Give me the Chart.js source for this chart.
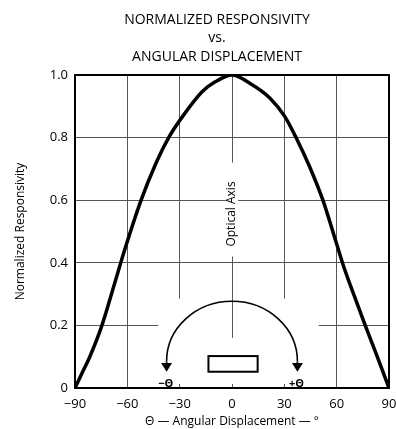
<!DOCTYPE html>
<html><head><meta charset="utf-8">
<script src="https://cdn.jsdelivr.net/npm/chart.js@4/dist/chart.umd.min.js"></script>
<style>html,body{margin:0;padding:0;background:#fff}#wrap{width:396px;height:429px;position:relative}</style>
</head><body><div id="wrap"><canvas id="c"></canvas></div>
<script>
const titleLines = ['NORMALIZED RESPONSIVITY', 'vs.', 'ANGULAR DISPLACEMENT'];
const xAxisTitle = '\u0398 \u2014 Angular Displacement \u2014 \u00B0';
const yAxisTitle = 'Normalized Responsivity';
const xTicks = [-90, -60, -30, 0, 30, 60, 90];
const yTicks = [0, 0.2, 0.4, 0.6, 0.8, 1.0];
const angles = [-90, -85.75, -81.5, -74.8, -67.3, -61.6, -52.1, -43.6, -36, -28.4, -17, -9.4, 0,
                10.4, 21.8, 30.3, 36.9, 44.5, 52.1, 60, 64.5, 70, 76, 83, 90];
const responsivity = [0, 0.05, 0.1, 0.196, 0.334, 0.44, 0.6, 0.718, 0.803, 0.867, 0.947, 0.979, 1.0,
                0.973, 0.926, 0.867, 0.798, 0.707, 0.6, 0.46, 0.38, 0.296, 0.206, 0.104, 0];
const diagramLabels = ['\u2212\u0398', '+\u0398'];
const axisLabel = 'Optical Axis';

const FONT = "'Open Sans', 'DejaVu Sans', sans-serif";
const GRID = '#555';

const overlay = {
  id: 'overlay',
  beforeDatasetsDraw(chart) {
    const {ctx, chartArea: a, scales: {x, y}} = chart;
    const px = v => x.getPixelForValue(v), py = v => y.getPixelForValue(v);
    ctx.save();
    // title
    ctx.fillStyle = '#000';
    ctx.font = '14px ' + FONT;
    ctx.textAlign = 'center'; ctx.textBaseline = 'middle';
    titleLines.forEach((t, i) => ctx.fillText(t, 217, 20 + i * 18.5));
    // masks over the grid
    ctx.fillStyle = '#fff';
    ctx.fillRect(px(-42.3), py(0.286), px(49.7) - px(-42.3), py(0) - 4 - py(0.286));
    ctx.fillRect(px(-3.5), py(0.72), px(3.5) - px(-3.5), py(0.42) - py(0.72));
    // central axis segment inside the arc
    ctx.strokeStyle = GRID; ctx.lineWidth = 1;
    ctx.beginPath();
    ctx.moveTo(Math.round(px(0)) + 0.5, py(0.286));
    ctx.lineTo(Math.round(px(0)) + 0.5, py(0.16));
    ctx.stroke();
    // frame
    ctx.strokeStyle = '#000'; ctx.lineWidth = 2;
    ctx.strokeRect(a.left, a.top, a.right - a.left, a.bottom - a.top);
    // Optical Axis text
    ctx.fillStyle = '#000';
    ctx.font = '12px ' + FONT;
    ctx.translate(px(0), py(0.556));
    ctx.rotate(-Math.PI / 2);
    ctx.fillText(axisLabel, 0, 0);
    ctx.setTransform(1, 0, 0, 1, 0, 0);
    // arc
    const cx = px(0), cy = py(0.085);
    const rx = px(37.5) - px(0), ry = py(0.085) - py(0.277);
    ctx.lineWidth = 1.6; ctx.strokeStyle = '#000';
    ctx.beginPath();
    ctx.ellipse(cx, cy, rx, ry, 0, Math.PI, 2 * Math.PI);
    ctx.stroke();
    ctx.beginPath();
    ctx.moveTo(cx - rx, cy); ctx.lineTo(cx - rx, py(0.075));
    ctx.moveTo(cx + rx, cy); ctx.lineTo(cx + rx, py(0.075));
    ctx.stroke();
    // arrow heads
    [cx - rx, cx + rx].forEach(ax => {
      ctx.beginPath();
      ctx.moveTo(ax - 5.5, py(0.08));
      ctx.lineTo(ax + 5.5, py(0.08));
      ctx.lineTo(ax, py(0.052));
      ctx.closePath();
      ctx.fill();
    });
    // detector rectangle
    ctx.lineWidth = 2;
    ctx.strokeRect(px(-13.5), py(0.102), px(14.7) - px(-13.5), py(0.052) - py(0.102));
    // +/- theta labels
    ctx.font = 'bold 11px ' + FONT;
    ctx.textBaseline = 'alphabetic';
    ctx.fillText(diagramLabels[0], px(-38), py(0) - 1.5);
    ctx.fillText(diagramLabels[1], px(37), py(0) - 1.5);
    ctx.restore();
  }
};

new Chart(document.getElementById('c'), {
  type: 'line',
  data: {
    datasets: [{
      data: angles.map((a, i) => ({x: a, y: responsivity[i]})),
      borderColor: '#000',
      borderWidth: 3.5,
      pointRadius: 0,
      fill: false,
      cubicInterpolationMode: 'monotone'
    }]
  },
  options: {
    responsive: true,
    maintainAspectRatio: false,
    animation: false,
    devicePixelRatio: 1,
    layout: {padding: {left: 0, right: 0, top: 75, bottom: 0}},
    plugins: {
      legend: {display: false},
      tooltip: {enabled: false},
      title: {display: false}
    },
    scales: {
      x: {
        type: 'linear', min: -90, max: 90,
        afterBuildTicks: s => { s.ticks = xTicks.map(v => ({value: v})); },
        afterFit: s => { s.height = 41; s.paddingRight = 7; s.paddingLeft = 0; },
        ticks: {
          color: '#000', padding: 8, maxRotation: 0, autoSkip: false,
          font: {family: FONT, size: 13},
          callback: v => (v < 0 ? '\u2212' + Math.abs(v) : String(v))
        },
        grid: {color: GRID, lineWidth: 1, drawTicks: false},
        border: {display: true, color: '#000', width: 2},
        title: {display: true, text: xAxisTitle, color: '#000', font: {family: FONT, size: 12}, padding: {top: 1, bottom: 0}}
      },
      y: {
        type: 'linear', min: 0, max: 1,
        afterBuildTicks: s => { s.ticks = yTicks.map(v => ({value: v})); },
        afterFit: s => { s.width = 75; },
        ticks: {
          color: '#000', padding: 7,
          font: {family: FONT, size: 13},
          callback: v => (v === 0 ? '0' : v.toFixed(1))
        },
        grid: {color: GRID, lineWidth: 1, drawTicks: false},
        border: {display: true, color: '#000', width: 2},
        title: {display: true, text: yAxisTitle, color: '#000', font: {family: FONT, size: 12}, padding: {top: 13, bottom: 0}}
      }
    }
  },
  plugins: [overlay]
});
</script>
</body></html>
